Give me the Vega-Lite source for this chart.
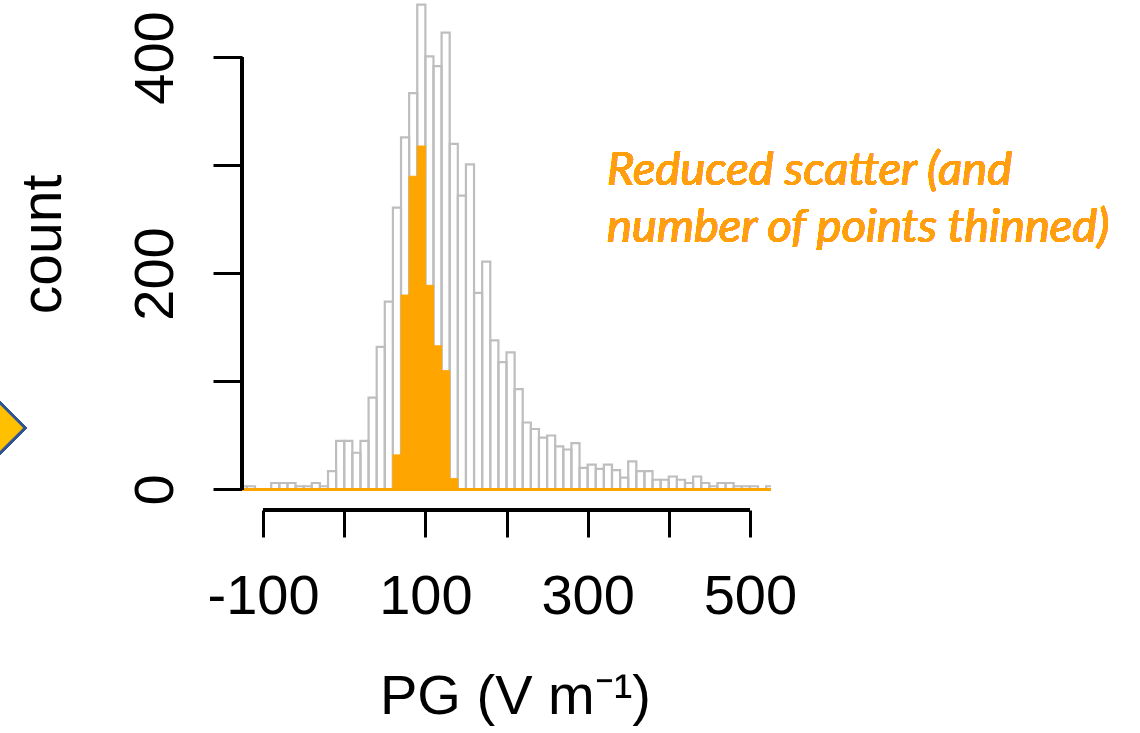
{
  "$schema": "https://vega.github.io/schema/vega-lite/v6.json",
  "width": 529,
  "height": 510,
  "autosize": {"type": "none"},
  "padding": {"left": 242, "top": 0, "right": 369, "bottom": 223},
  "background": "white",
  "config": {"view": {"stroke": null}},
  "data": {
    "values": [
      {"start": -130, "end": -120, "gray": 3, "orange": 0},
      {"start": -120, "end": -110, "gray": 3, "orange": 0},
      {"start": -110, "end": -100, "gray": 0, "orange": 0},
      {"start": -100, "end": -90, "gray": 0, "orange": 0},
      {"start": -90, "end": -80, "gray": 6, "orange": 0},
      {"start": -80, "end": -70, "gray": 6, "orange": 0},
      {"start": -70, "end": -60, "gray": 6, "orange": 0},
      {"start": -60, "end": -50, "gray": 3, "orange": 0},
      {"start": -50, "end": -40, "gray": 3, "orange": 0},
      {"start": -40, "end": -30, "gray": 6, "orange": 0},
      {"start": -30, "end": -20, "gray": 3, "orange": 0},
      {"start": -20, "end": -10, "gray": 17, "orange": 0},
      {"start": -10, "end": 0, "gray": 45, "orange": 0},
      {"start": 0, "end": 10, "gray": 45, "orange": 0},
      {"start": 10, "end": 20, "gray": 34, "orange": 0},
      {"start": 20, "end": 30, "gray": 45, "orange": 0},
      {"start": 30, "end": 40, "gray": 85, "orange": 0},
      {"start": 40, "end": 50, "gray": 132, "orange": 0},
      {"start": 50, "end": 60, "gray": 174, "orange": 0},
      {"start": 60, "end": 70, "gray": 261, "orange": 32},
      {"start": 70, "end": 80, "gray": 326, "orange": 180},
      {"start": 80, "end": 90, "gray": 367, "orange": 290},
      {"start": 90, "end": 100, "gray": 449, "orange": 318},
      {"start": 100, "end": 110, "gray": 401, "orange": 189},
      {"start": 110, "end": 120, "gray": 392, "orange": 133},
      {"start": 120, "end": 130, "gray": 423, "orange": 110},
      {"start": 130, "end": 140, "gray": 320, "orange": 10},
      {"start": 140, "end": 150, "gray": 272, "orange": 0},
      {"start": 150, "end": 160, "gray": 301, "orange": 0},
      {"start": 160, "end": 170, "gray": 182, "orange": 0},
      {"start": 170, "end": 180, "gray": 211, "orange": 0},
      {"start": 180, "end": 190, "gray": 138, "orange": 0},
      {"start": 190, "end": 200, "gray": 118, "orange": 0},
      {"start": 200, "end": 210, "gray": 127, "orange": 0},
      {"start": 210, "end": 220, "gray": 93, "orange": 0},
      {"start": 220, "end": 230, "gray": 62, "orange": 0},
      {"start": 230, "end": 240, "gray": 56, "orange": 0},
      {"start": 240, "end": 250, "gray": 48, "orange": 0},
      {"start": 250, "end": 260, "gray": 50, "orange": 0},
      {"start": 260, "end": 270, "gray": 40, "orange": 0},
      {"start": 270, "end": 280, "gray": 37, "orange": 0},
      {"start": 280, "end": 290, "gray": 43, "orange": 0},
      {"start": 290, "end": 300, "gray": 20, "orange": 0},
      {"start": 300, "end": 310, "gray": 23, "orange": 0},
      {"start": 310, "end": 320, "gray": 19, "orange": 0},
      {"start": 320, "end": 330, "gray": 23, "orange": 0},
      {"start": 330, "end": 340, "gray": 18, "orange": 0},
      {"start": 340, "end": 350, "gray": 11, "orange": 0},
      {"start": 350, "end": 360, "gray": 26, "orange": 0},
      {"start": 360, "end": 370, "gray": 17, "orange": 0},
      {"start": 370, "end": 380, "gray": 17, "orange": 0},
      {"start": 380, "end": 390, "gray": 9, "orange": 0},
      {"start": 390, "end": 400, "gray": 9, "orange": 0},
      {"start": 400, "end": 410, "gray": 12, "orange": 0},
      {"start": 410, "end": 420, "gray": 9, "orange": 0},
      {"start": 420, "end": 430, "gray": 6, "orange": 0},
      {"start": 430, "end": 440, "gray": 12, "orange": 0},
      {"start": 440, "end": 450, "gray": 6, "orange": 0},
      {"start": 450, "end": 460, "gray": 3, "orange": 0},
      {"start": 460, "end": 470, "gray": 6, "orange": 0},
      {"start": 470, "end": 480, "gray": 6, "orange": 0},
      {"start": 480, "end": 490, "gray": 3, "orange": 0},
      {"start": 490, "end": 500, "gray": 3, "orange": 0},
      {"start": 500, "end": 510, "gray": 3, "orange": 0},
      {"start": 510, "end": 520, "gray": 0, "orange": 0},
      {"start": 520, "end": 530, "gray": 3, "orange": 0}
    ]
  },
  "layer": [
    {
      "transform": [{"filter": "datum.gray > 0"}],
      "mark": {"type": "bar", "fill": "transparent", "stroke": "#bebebe", "strokeWidth": 2.2, "clip": true},
      "encoding": {
        "x": {
          "field": "start", "type": "quantitative",
          "scale": {"domain": [-126, 526], "nice": false, "zero": false},
          "axis": {
            "values": [-100, 0, 100, 200, 300, 400, 500],
            "domain": false, "grid": false, "ticks": true, "labels": true,
            "tickSize": 27, "tickWidth": 3, "tickColor": "black",
            "labelFont": "Liberation Sans", "labelFontSize": 56, "labelColor": "black",
            "labelExpr": "datum.value % 200 == 0 ? '' : '' + datum.value",
            "labelBaseline": "alphabetic", "labelPadding": 76,
            "labelOverlap": false, "labelFlush": false,
            "title": "PG (V m⁻¹)",
            "titleFont": "Liberation Sans", "titleFontSize": 56, "titleFontWeight": "normal", "titleColor": "black",
            "titleX": 273, "titleY": 203, "titleAlign": "center", "titleBaseline": "alphabetic"
          }
        },
        "x2": {"field": "end"},
        "y": {
          "field": "gray", "type": "quantitative",
          "scale": {"domain": [-19, 453.2], "nice": false, "zero": false},
          "axis": {
            "values": [0, 100, 200, 300, 400],
            "domain": false, "grid": false, "ticks": true, "labels": true,
            "tickSize": 29, "tickWidth": 3, "tickColor": "black",
            "labelFont": "Liberation Sans", "labelFontSize": 56, "labelColor": "black",
            "labelExpr": "datum.value % 200 == 0 ? '' + datum.value : ''",
            "labelAngle": 270, "labelAlign": "center", "labelBaseline": "alphabetic",
            "labelPadding": 41, "labelOverlap": false, "labelFlush": false,
            "title": "count",
            "titleFont": "Liberation Sans", "titleFontSize": 57, "titleFontWeight": "normal", "titleColor": "black",
            "titleAngle": 270, "titleX": -182, "titleY": 244, "titleAlign": "center", "titleBaseline": "alphabetic"
          }
        },
        "y2": {"datum": 0}
      }
    },
    {
      "transform": [{"filter": "datum.orange > 0"}],
      "mark": {"type": "bar", "fill": "#ffa500", "stroke": "#ffa500", "strokeWidth": 1, "clip": true},
      "encoding": {
        "x": {"field": "start", "type": "quantitative"},
        "x2": {"field": "end"},
        "y": {"field": "orange", "type": "quantitative"},
        "y2": {"datum": 0}
      }
    },
    {
      "mark": {"type": "rule", "color": "#ffa500", "strokeWidth": 2.8, "clip": true},
      "encoding": {
        "x": {"datum": -130, "type": "quantitative"},
        "x2": {"datum": 530},
        "y": {"datum": 0, "type": "quantitative"}
      }
    },
    {
      "mark": {"type": "rule", "color": "black", "strokeWidth": 3},
      "encoding": {
        "x": {"datum": -126, "type": "quantitative"},
        "y": {"datum": 0, "type": "quantitative"},
        "y2": {"datum": 400}
      }
    },
    {
      "mark": {"type": "rule", "color": "black", "strokeWidth": 3},
      "encoding": {
        "x": {"datum": -100, "type": "quantitative"},
        "x2": {"datum": 500},
        "y": {"datum": -19, "type": "quantitative"}
      }
    },
    {
      "mark": {
        "type": "text", "align": "left", "baseline": "alphabetic",
        "font": "Lato", "fontStyle": "italic", "fontSize": 47, "lineHeight": 57,
        "color": "#ff9f0f",
        "text": ["Reduced scatter (and", "number of points thinned)"]
      },
      "encoding": {
        "x": {"datum": 324, "type": "quantitative"},
        "y": {"datum": 282, "type": "quantitative"}
      }
    },
    {
      "mark": {"type": "point", "shape": "diamond", "size": 2500, "filled": true, "fill": "#ffc000", "stroke": "#2f5597", "strokeWidth": 2.5, "opacity": 1},
      "encoding": {
        "x": {"datum": -424.4, "type": "quantitative"},
        "y": {"datum": 57, "type": "quantitative"}
      }
    }
  ]
}
